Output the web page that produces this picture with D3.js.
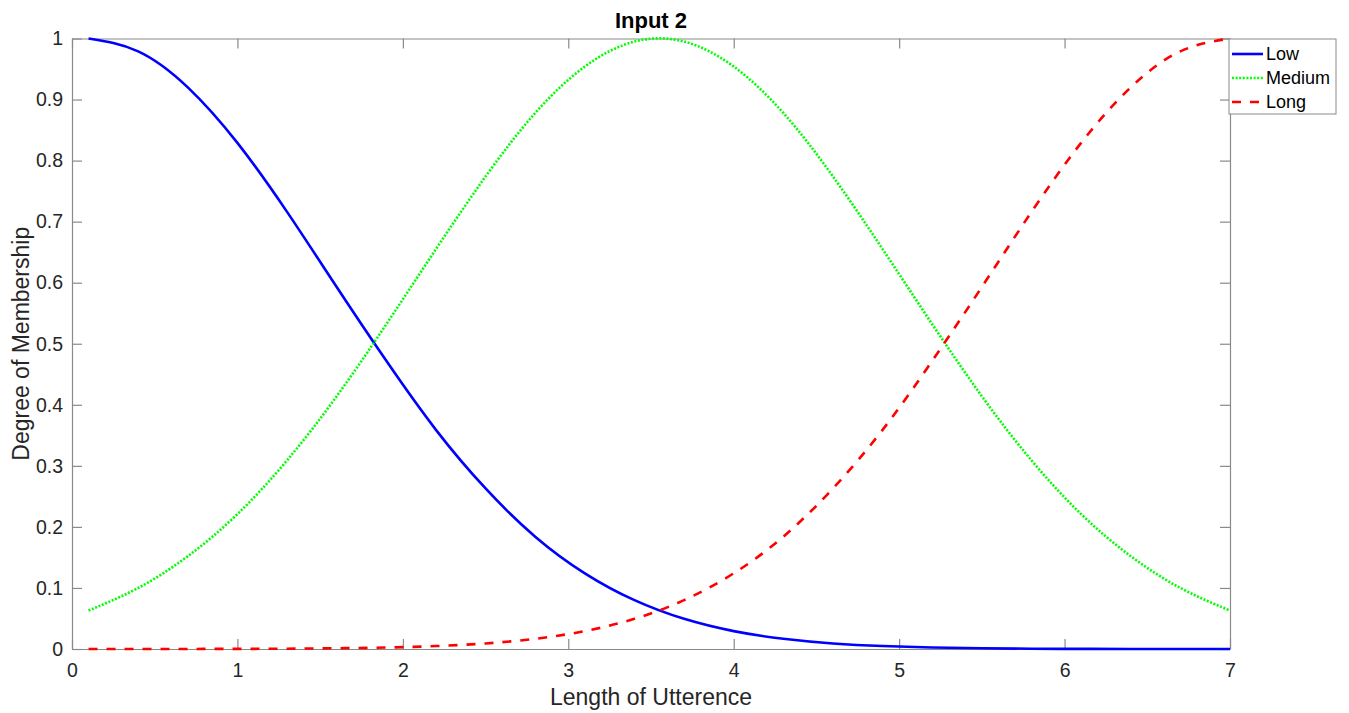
<!DOCTYPE html>
<html>
<head>
<meta charset="utf-8">
<script src="https://cdn.jsdelivr.net/npm/d3@7"></script>
<style>
  body { margin: 0; background: #fff; }
  svg { display: block; font-family: "Liberation Sans", Arial, sans-serif; }
</style>
</head>
<body>
<svg id="chart" width="1349" height="713"></svg>
<script>
var xs = [0.1, 0.4, 0.7, 1.0, 1.3, 1.6, 1.9, 2.2, 2.5, 2.8, 3.1, 3.4, 3.7, 4.0, 4.3, 4.6, 4.9, 5.2, 5.5, 5.8, 6.1, 6.4, 6.7, 7.0];
var low = [1, 0.979, 0.920, 0.829, 0.716, 0.593, 0.472, 0.359, 0.263, 0.184, 0.124, 0.080, 0.0494, 0.0293, 0.0167, 0.0091, 0.0048, 0.0024, 0.0012, 0.0005, 0.0002, 0.0001, 0, 0];
var medium = [0.063, 0.100, 0.152, 0.221, 0.309, 0.414, 0.532, 0.655, 0.774, 0.878, 0.954, 0.995, 0.995, 0.954, 0.878, 0.774, 0.655, 0.532, 0.414, 0.309, 0.221, 0.152, 0.100, 0.063];
var long = [0, 0, 0.0001, 0.0002, 0.0005, 0.0012, 0.0024, 0.0048, 0.0091, 0.0167, 0.0293, 0.0494, 0.080, 0.124, 0.184, 0.263, 0.359, 0.472, 0.593, 0.716, 0.829, 0.920, 0.979, 1];
var seriesNames = ['Low', 'Medium', 'Long'];
var xTicks = [0, 1, 2, 3, 4, 5, 6, 7];
var yTicks = [0, 0.1, 0.2, 0.3, 0.4, 0.5, 0.6, 0.7, 0.8, 0.9, 1];

var svg = d3.select('#chart');
var pLeft = 72, pRight = 1230, pTop = 38.5, pBottom = 649;
var x = d3.scaleLinear().domain([0, 7]).range([pLeft, pRight]);
var y = d3.scaleLinear().domain([0, 1]).range([pBottom, pTop]);
var axisCol = '#8a8a8a', textCol = '#262626';

// axes with inward ticks, box style
var gx = svg.append('g').attr('transform', `translate(0,${pBottom})`)
  .call(d3.axisBottom(x).tickValues(xTicks).tickSizeInner(-10).tickSizeOuter(0).tickPadding(14).tickFormat(d3.format('d')));
var gxt = svg.append('g').attr('transform', `translate(0,${pTop})`)
  .call(d3.axisTop(x).tickValues(xTicks).tickSizeInner(-10).tickSizeOuter(0).tickFormat(''));
var gy = svg.append('g').attr('transform', `translate(${pLeft},0)`)
  .call(d3.axisLeft(y).tickValues(yTicks).tickSizeInner(-10).tickSizeOuter(0).tickPadding(9).tickFormat(d => d3.format('~g')(d)));
var gyr = svg.append('g').attr('transform', `translate(${pRight},0)`)
  .call(d3.axisRight(y).tickValues(yTicks).tickSizeInner(-10).tickSizeOuter(0).tickFormat(''));

[gx, gxt, gy, gyr].forEach(g => {
  g.selectAll('path').attr('stroke', axisCol).attr('stroke-width', 1.2);
  g.selectAll('line').attr('stroke', axisCol).attr('stroke-width', 1.2);
  g.selectAll('text').attr('fill', textCol).style('font-size', '19.5px');
});

var line = d3.line().x((d, i) => x(xs[i])).y(d => y(d)).curve(d3.curveNatural);

var styles = [
  {data: low, color: '#0000ff', dash: null},
  {data: medium, color: '#00ff00', dash: '2,1.6'},
  {data: long, color: '#ff0000', dash: '9,9'}
];

var plot = svg.append('g');
styles.forEach(s => {
  plot.append('path')
    .attr('d', line(s.data))
    .attr('fill', 'none')
    .attr('stroke', s.color)
    .attr('stroke-width', 2.6)
    .attr('stroke-dasharray', s.dash);
});

// titles
svg.append('text').attr('x', (pLeft + pRight) / 2).attr('y', 28).attr('text-anchor', 'middle')
  .style('font-size', '22px').style('font-weight', 'bold').attr('fill', '#000').text('Input 2');
svg.append('text').attr('x', (pLeft + pRight) / 2).attr('y', 705).attr('text-anchor', 'middle')
  .style('font-size', '23px').attr('fill', textCol).text('Length of Utterence');
svg.append('text').attr('transform', `translate(29,${(pTop + pBottom) / 2}) rotate(-90)`).attr('text-anchor', 'middle')
  .style('font-size', '23px').attr('fill', textCol).text('Degree of Membership');

// legend
var lg = svg.append('g').attr('transform', 'translate(1229,39)');
lg.append('rect').attr('width', 107).attr('height', 75).attr('fill', '#fff').attr('stroke', axisCol).attr('stroke-width', 1);
seriesNames.forEach((n, i) => {
  var yy = 15 + i * 24;
  lg.append('line').attr('x1', 3).attr('x2', 34).attr('y1', yy).attr('y2', yy)
    .attr('stroke', styles[i].color).attr('stroke-width', 2.6).attr('stroke-dasharray', styles[i].dash);
  lg.append('text').attr('x', 37).attr('y', yy + 6).style('font-size', '18px').attr('fill', '#000').text(n);
});
</script>
</body>
</html>
